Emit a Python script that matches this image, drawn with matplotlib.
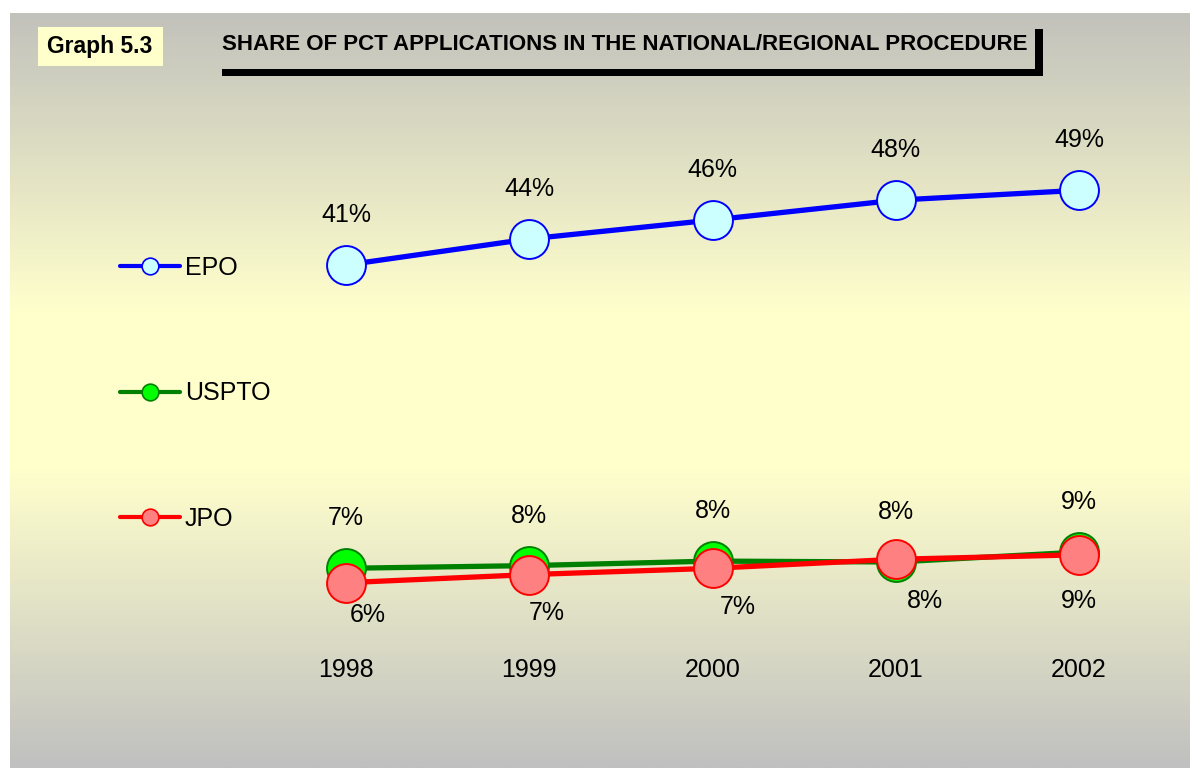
import numpy as np
import matplotlib
matplotlib.use('Agg')
import matplotlib.pyplot as plt
from matplotlib.lines import Line2D
from matplotlib.colors import LinearSegmentedColormap
from matplotlib.patches import Rectangle

plt.rcParams['font.family'] = ['Liberation Sans', 'DejaVu Sans']

# data
years = ['1998', '1999', '2000', '2001', '2002']
epo = [41.0, 43.9, 46.0, 48.2, 49.3]
uspto = [7.3, 7.6, 8.1, 8.0, 9.1]
jpo = [5.7, 6.6, 7.3, 8.3, 8.8]
epo_labels = ['41%', '44%', '46%', '48%', '49%']
uspto_labels = ['7%', '8%', '8%', '8%', '9%']
jpo_labels = ['6%', '7%', '7%', '8%', '9%']

# label offsets for JPO (pixels, moved by hand in the original)
jpo_dx = [22, 17, 25, 29, 0]
jpo_dy = [-32, -38, -39, -42, -46]

W, H = 1192, 769
fs = 18
fig = plt.figure(figsize=(W / 100, H / 100), dpi=100)

# background panel with vertical gradient gray -> pale yellow -> gray
bg = fig.add_axes([10 / W, 1 - 768 / H, 1180 / W, 755 / H])
cmap = LinearSegmentedColormap.from_list('bg', ['#c2c2bc', '#ffffcc', '#ffffcc', '#c0c0c0'])
grad = np.concatenate([np.linspace(0, 0.42, 200), np.linspace(0.58, 1, 200)])
bg.imshow(grad.reshape(-1, 1), aspect='auto', cmap=cmap, extent=[0, 1, 0, 1], origin='upper')
bg.axis('off')

# title block
fig.patches.append(Rectangle((38 / W, 1 - 66 / H), 125 / W, 39 / H,
                             transform=fig.transFigure, facecolor='#ffffcc', edgecolor='none'))
fig.text(47 / W, 1 - 46 / H, 'Graph 5.3', fontsize=16.5, fontweight='bold', va='center', ha='left')
fig.text(222 / W, 1 - 45 / H, 'SHARE OF PCT APPLICATIONS IN THE NATIONAL/REGIONAL PROCEDURE',
         fontsize=16, fontweight='bold', va='center', ha='left')
fig.patches.append(Rectangle((222 / W, 1 - 76 / H), 821 / W, 7 / H,
                             transform=fig.transFigure, facecolor='black', edgecolor='none'))
fig.patches.append(Rectangle((1035 / W, 1 - 76 / H), 8 / W, 47 / H,
                             transform=fig.transFigure, facecolor='black', edgecolor='none'))

# main plot
ax = fig.add_axes([254.4 / W, 1 - 634 / H, 916.2 / W, 495 / H])
ax.set_facecolor('none')
x = np.arange(len(years))

styles = [
    (epo, '#0000ff', '#ccffff', 'EPO'),
    (uspto, '#008000', '#00ff00', 'USPTO'),
    (jpo, '#ff0000', '#ff8080', 'JPO'),
]
for vals, lc, fc, name in styles:
    ax.plot(x, vals, color=lc, lw=3.8, marker='o', markersize=28,
            markerfacecolor=fc, markeredgecolor=lc, markeredgewidth=1.4,
            solid_capstyle='round')

for i in x:
    ax.annotate(epo_labels[i], (i, epo[i]), xytext=(0, 50), textcoords='offset pixels',
                ha='center', va='center', fontsize=fs)
    ax.annotate(uspto_labels[i], (i, uspto[i]), xytext=(0, 50), textcoords='offset pixels',
                ha='center', va='center', fontsize=fs)
    ax.annotate(jpo_labels[i], (i, jpo[i]), xytext=(jpo_dx[i], jpo_dy[i]), textcoords='offset pixels',
                ha='center', va='center', fontsize=fs)

ax.set_xlim(-0.5, 4.5)
ax.set_ylim(0, 55)
ax.set_xticks(x)
ax.set_xticklabels(years, fontsize=fs)
ax.tick_params(axis='x', length=0, pad=17)
ax.set_yticks([])
for s in ax.spines.values():
    s.set_visible(False)

# legend
handles = [Line2D([0], [0], color=lc, lw=3, marker='o', markersize=12,
                  markerfacecolor=fc, markeredgecolor=lc, markeredgewidth=1.2,
                  solid_capstyle='round')
           for vals, lc, fc, name in styles]
fig.legend(handles, [s[3] for s in styles], loc='upper left',
           bbox_to_anchor=(120 / W, 1 - 256 / H), bbox_transform=fig.transFigure,
           frameon=False, fontsize=fs, handlelength=2.4, handletextpad=0.2,
           labelspacing=4.05, borderpad=0, borderaxespad=0)

fig.savefig('out.png', dpi=100, facecolor='white')
